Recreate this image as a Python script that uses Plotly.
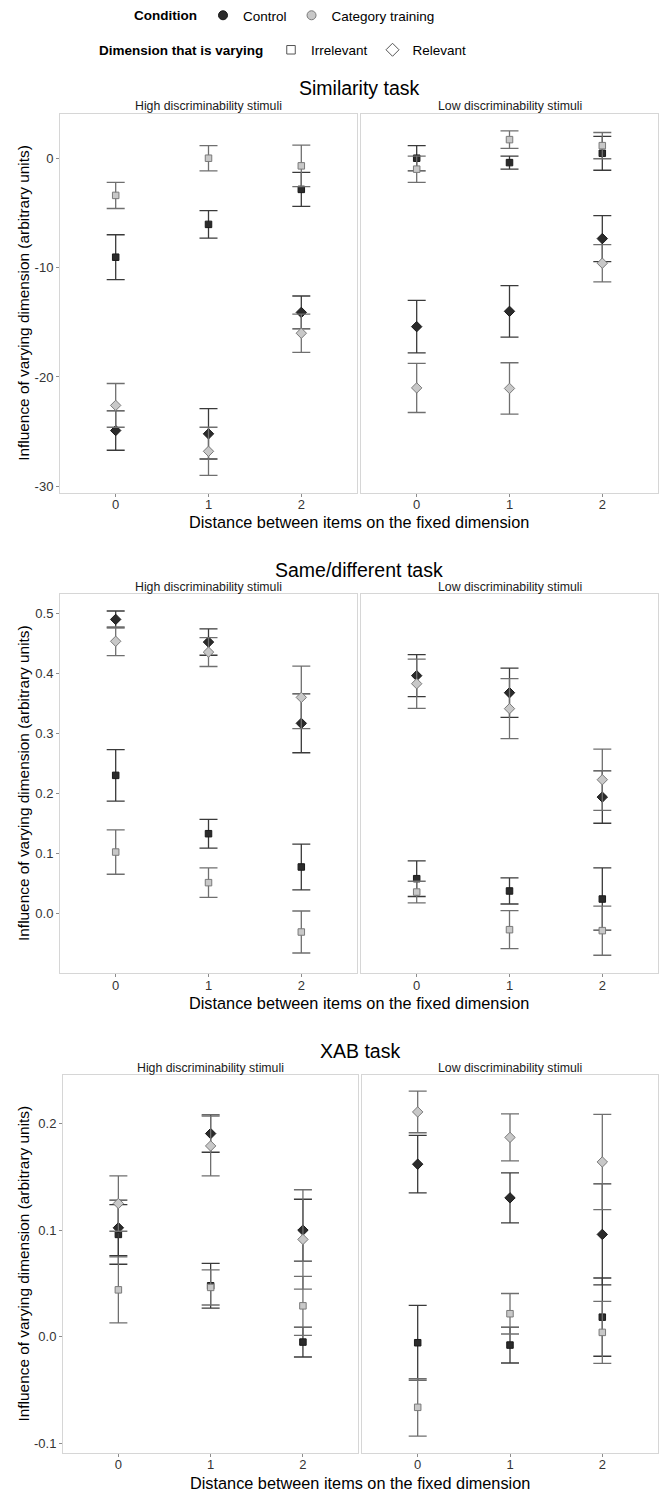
import plotly.graph_objects as go

# ---------------- data ----------------
X = [0, 1, 2]
TASKS = ["Similarity task", "Same/different task", "XAB task"]
STIMULI = ["High discriminability stimuli", "Low discriminability stimuli"]
CONDITIONS = ["Control", "Category training"]
DIMENSIONS = ["Irrelevant", "Relevant"]
LEGEND_TITLES = ["Condition", "Dimension that is varying"]
X_TITLE = "Distance between items on the fixed dimension"
Y_TITLE = "Influence of varying dimension (arbitrary units)"

# Similarity task
sim_high_ctrl_irr = [-9.05, -6.05, -2.85]
sim_high_ctrl_irr_err = [2.05, 1.25, 1.55]
sim_high_cat_irr = [-3.4, 0.0, -0.7]
sim_high_cat_irr_err = [1.2, 1.15, 1.9]
sim_high_ctrl_rel = [-24.9, -25.2, -14.1]
sim_high_ctrl_rel_err = [1.8, 2.3, 1.5]
sim_high_cat_rel = [-22.6, -26.8, -16.0]
sim_high_cat_rel_err = [2.0, 2.2, 1.75]
sim_low_ctrl_irr = [0.0, -0.4, 0.45]
sim_low_ctrl_irr_err = [1.15, 0.6, 1.55]
sim_low_cat_irr = [-1.0, 1.7, 1.15]
sim_low_cat_irr_err = [1.2, 0.8, 1.2]
sim_low_ctrl_rel = [-15.4, -14.0, -7.35]
sim_low_ctrl_rel_err = [2.4, 2.35, 2.1]
sim_low_cat_rel = [-21.0, -21.05, -9.6]
sim_low_cat_rel_err = [2.25, 2.35, 1.7]

# Same/different task
sd_high_ctrl_irr = [0.2305, 0.1333, 0.0778]
sd_high_ctrl_irr_err = [0.043, 0.024, 0.038]
sd_high_cat_irr = [0.1027, 0.0517, -0.0306]
sd_high_cat_irr_err = [0.037, 0.0245, 0.035]
sd_high_ctrl_rel = [0.4905, 0.4527, 0.3172]
sd_high_ctrl_rel_err = [0.014, 0.022, 0.049]
sd_high_cat_rel = [0.454, 0.436, 0.3605]
sd_high_cat_rel_err = [0.024, 0.024, 0.052]
sd_low_ctrl_irr = [0.0583, 0.0378, 0.0244]
sd_low_ctrl_irr_err = [0.0297, 0.0217, 0.052]
sd_low_cat_irr = [0.036, -0.0267, -0.0283]
sd_low_cat_irr_err = [0.018, 0.0317, 0.041]
sd_low_ctrl_rel = [0.3967, 0.3683, 0.1943]
sd_low_ctrl_rel_err = [0.035, 0.041, 0.0436]
sd_low_cat_rel = [0.3833, 0.3417, 0.2233]
sd_low_cat_rel_err = [0.041, 0.05, 0.051]

# XAB task
xab_high_ctrl_irr = [0.096, 0.0478, -0.005]
xab_high_ctrl_irr_err = [0.028, 0.021, 0.014]
xab_high_cat_irr = [0.044, 0.0463, 0.029]
xab_high_cat_irr_err = [0.031, 0.0165, 0.0277]
xab_high_ctrl_rel = [0.1022, 0.1906, 0.1]
xab_high_ctrl_rel_err = [0.026, 0.0175, 0.029]
xab_high_cat_rel = [0.125, 0.179, 0.0913]
xab_high_cat_rel_err = [0.026, 0.028, 0.0466]
xab_low_ctrl_irr = [-0.0056, -0.0078, 0.0184]
xab_low_ctrl_irr_err = [0.035, 0.0168, 0.0367]
xab_low_cat_irr = [-0.0662, 0.0216, 0.0041]
xab_low_cat_irr_err = [0.027, 0.019, 0.029]
xab_low_ctrl_rel = [0.1619, 0.1303, 0.096]
xab_low_ctrl_rel_err = [0.027, 0.0235, 0.0474]
xab_low_cat_rel = [0.2109, 0.187, 0.164]
xab_low_cat_rel_err = [0.0195, 0.022, 0.0447]

sim_yticks = [-30, -20, -10, 0]
sim_yticklabels = ["-30", "-20", "-10", "0"]
sd_yticks = [0.0, 0.1, 0.2, 0.3, 0.4, 0.5]
sd_yticklabels = ["0.0", "0.1", "0.2", "0.3", "0.4", "0.5"]
xab_yticks = [-0.1, 0.0, 0.1, 0.2]
xab_yticklabels = ["-0.1", "0.0", "0.1", "0.2"]
x_ticklabels = ["0", "1", "2"]

# ---------------- assemble ----------------
series = {
    0: {
        0: [(sim_high_ctrl_irr, sim_high_ctrl_irr_err, 0, 0), (sim_high_cat_irr, sim_high_cat_irr_err, 1, 0),
            (sim_high_ctrl_rel, sim_high_ctrl_rel_err, 0, 1), (sim_high_cat_rel, sim_high_cat_rel_err, 1, 1)],
        1: [(sim_low_ctrl_irr, sim_low_ctrl_irr_err, 0, 0), (sim_low_cat_irr, sim_low_cat_irr_err, 1, 0),
            (sim_low_ctrl_rel, sim_low_ctrl_rel_err, 0, 1), (sim_low_cat_rel, sim_low_cat_rel_err, 1, 1)],
    },
    1: {
        0: [(sd_high_ctrl_irr, sd_high_ctrl_irr_err, 0, 0), (sd_high_cat_irr, sd_high_cat_irr_err, 1, 0),
            (sd_high_ctrl_rel, sd_high_ctrl_rel_err, 0, 1), (sd_high_cat_rel, sd_high_cat_rel_err, 1, 1)],
        1: [(sd_low_ctrl_irr, sd_low_ctrl_irr_err, 0, 0), (sd_low_cat_irr, sd_low_cat_irr_err, 1, 0),
            (sd_low_ctrl_rel, sd_low_ctrl_rel_err, 0, 1), (sd_low_cat_rel, sd_low_cat_rel_err, 1, 1)],
    },
    2: {
        0: [(xab_high_ctrl_irr, xab_high_ctrl_irr_err, 0, 0), (xab_high_cat_irr, xab_high_cat_irr_err, 1, 0),
            (xab_high_ctrl_rel, xab_high_ctrl_rel_err, 0, 1), (xab_high_cat_rel, xab_high_cat_rel_err, 1, 1)],
        1: [(xab_low_ctrl_irr, xab_low_ctrl_irr_err, 0, 0), (xab_low_cat_irr, xab_low_cat_irr_err, 1, 0),
            (xab_low_ctrl_rel, xab_low_ctrl_rel_err, 0, 1), (xab_low_cat_rel, xab_low_cat_rel_err, 1, 1)],
    },
}
yticks = [(sim_yticks, sim_yticklabels), (sd_yticks, sd_yticklabels), (xab_yticks, xab_yticklabels)]

W, H = 660, 1491
FONT = "Liberation Sans, Arial, sans-serif"

# layout geometry in pixels
panels = [
    dict(top=113, bottom=492, cols=[(60, 357), (361, 658)], yrange=[-30.58, 4.05],
         title_y=87, sub_y=105, xt_y=521.7),
    dict(top=593.3, bottom=972.7, cols=[(60, 357), (361, 658)], yrange=[-0.099, 0.533],
         title_y=569.3, sub_y=586.7, xt_y=1002.3),
    dict(top=1075, bottom=1452.7, cols=[(63, 358.3), (362.3, 657.7)], yrange=[-0.1088, 0.2453],
         title_y=1050.7, sub_y=1067.3, xt_y=1483.3),
]

def py(p):
    return 1 - p / H

def px(p):
    return p / W

cond_fill = ["#2b2b2b", "#c8c8c8"]
cond_line = ["#1a1a1a", "#7a7a7a"]
cond_err = ["#3a3a3a", "#6f6f6f"]
dim_symbol = ["square", "diamond"]
dim_size = [6.5, 8]

fig = go.Figure()
layout = dict(width=W, height=H, autosize=False, margin=dict(l=0, r=0, t=0, b=0),
              plot_bgcolor="white", paper_bgcolor="white",
              font=dict(family=FONT, color="#000000"), showlegend=True)
annotations = []

ax = 0
for ti, pan in enumerate(panels):
    first_y = None
    for si, (c0, c1) in enumerate(pan["cols"]):
        ax += 1
        xa = "xaxis" if ax == 1 else f"xaxis{ax}"
        ya = "yaxis" if ax == 1 else f"yaxis{ax}"
        xref = "x" if ax == 1 else f"x{ax}"
        yref = "y" if ax == 1 else f"y{ax}"
        layout[xa] = dict(domain=[px(c0), px(c1)], range=[-0.6, 2.6], anchor=yref,
                          tickvals=X, ticktext=x_ticklabels, ticks="outside", ticklen=3,
                          tickcolor="#8c8c8c", tickfont=dict(size=13, color="#333333"),
                          ticklabelstandoff=-3,
                          showgrid=False, zeroline=False, showline=True, mirror=True,
                          linecolor="#d6d6d6", linewidth=1, fixedrange=True)
        yd = dict(domain=[py(pan["bottom"]), py(pan["top"])], range=pan["yrange"], anchor=xref,
                  showgrid=False, zeroline=False, showline=True, mirror=True,
                  linecolor="#d6d6d6", linewidth=1, fixedrange=True)
        if si == 0:
            first_y = yref
            yd.update(tickvals=yticks[ti][0], ticktext=yticks[ti][1], ticks="outside", ticklen=3,
                      tickcolor="#8c8c8c", tickfont=dict(size=13, color="#333333"))
        else:
            yd.update(matches=first_y, showticklabels=False, ticks="")
        layout[ya] = yd

        for vals, errs, ci, di in series[ti][si]:
            fig.add_trace(go.Scatter(
                x=X, y=vals, xaxis=xref, yaxis=yref, mode="markers", showlegend=False,
                name=f"{CONDITIONS[ci]} - {DIMENSIONS[di]}",
                marker=dict(symbol=dim_symbol[di], size=dim_size[di], color=cond_fill[ci],
                            line=dict(color=cond_line[ci], width=1)),
                error_y=dict(type="data", array=errs, visible=True, color=cond_err[ci],
                             thickness=1.3, width=9),
            ))
        annotations.append(dict(text=STIMULI[si], x=px((c0 + c1) / 2), y=py(pan["sub_y"]),
                                xref="paper", yref="paper", showarrow=False,
                                xanchor="center", yanchor="middle",
                                font=dict(size=12.3, color="#1a1a1a")))
    c0 = pan["cols"][0][0]
    c1 = pan["cols"][1][1]
    annotations.append(dict(text=TASKS[ti], x=px((c0 + c1) / 2), y=py(pan["title_y"]),
                            xref="paper", yref="paper", showarrow=False,
                            xanchor="center", yanchor="middle", font=dict(size=19.5)))
    annotations.append(dict(text=X_TITLE, x=px((c0 + c1) / 2), y=py(pan["xt_y"]),
                            xref="paper", yref="paper", showarrow=False,
                            xanchor="center", yanchor="middle", font=dict(size=16.3)))
    annotations.append(dict(text=Y_TITLE, x=px(23.5), y=py((pan["top"] + pan["bottom"]) / 2),
                            xref="paper", yref="paper", showarrow=False, textangle=-90,
                            xanchor="center", yanchor="middle", font=dict(size=15.4)))

# legend entries
for ci in range(2):
    fig.add_trace(go.Scatter(x=[None], y=[None], mode="markers", name=CONDITIONS[ci],
                             legend="legend",
                             marker=dict(symbol="circle", size=9, color=cond_fill[ci],
                                         line=dict(color=cond_line[ci], width=1))))
for di in range(2):
    fig.add_trace(go.Scatter(x=[None], y=[None], mode="markers", name=DIMENSIONS[di],
                             legend="legend2",
                             marker=dict(symbol=dim_symbol[di] + "-open", size=dim_size[di] + 2,
                                         color="#555555", line=dict(width=1))))

LEG_SIZE = 13.5
# legend titles as annotations (right edge just before the symbols)
annotations.append(dict(text=f"<b>{LEGEND_TITLES[0]}</b>", x=px(199), y=py(15), xref="paper", yref="paper",
                        showarrow=False, xanchor="right", yanchor="middle", font=dict(size=LEG_SIZE)))
annotations.append(dict(text=f"<b>{LEGEND_TITLES[1]}</b>", x=px(265), y=py(50), xref="paper", yref="paper",
                        showarrow=False, xanchor="right", yanchor="middle", font=dict(size=LEG_SIZE)))
layout["legend"] = dict(orientation="h", x=px(203), xanchor="left", y=py(15), yanchor="middle",
                        font=dict(size=LEG_SIZE), bgcolor="rgba(0,0,0,0)", tracegroupgap=0)
layout["legend2"] = dict(orientation="h", x=px(271), xanchor="left", y=py(50), yanchor="middle",
                         font=dict(size=LEG_SIZE), bgcolor="rgba(0,0,0,0)", tracegroupgap=0)
layout["annotations"] = annotations
fig.update_layout(**layout)
fig.write_html("out.html", config={"displayModeBar": False},
               post_script="document.body.style.margin='0';document.body.style.overflow='hidden';")
